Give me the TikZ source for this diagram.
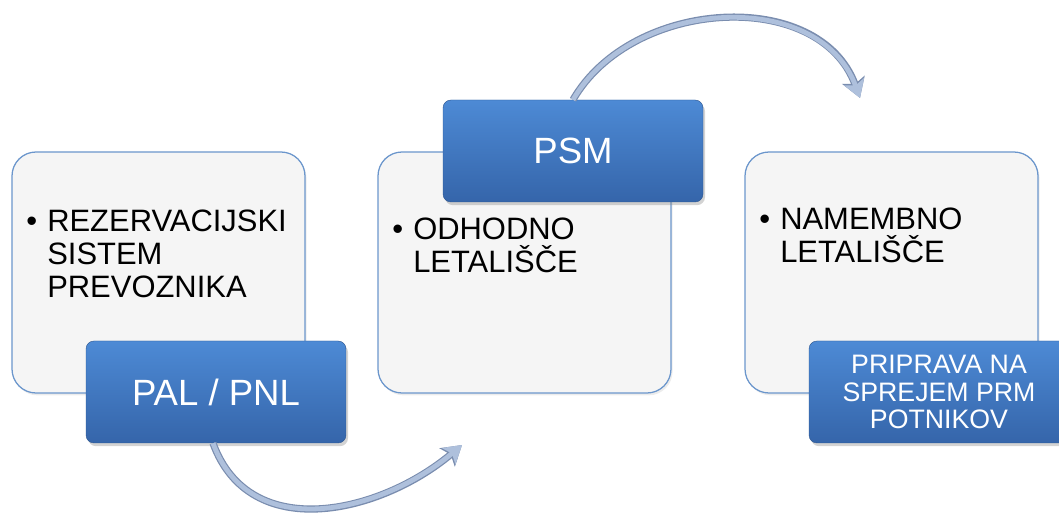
\documentclass[tikz,border=0pt]{standalone}
\usepackage{fontspec}
\setmainfont{Liberation Sans}
\usetikzlibrary{arrows.meta,positioning,calc,shadows}

\definecolor{boxfill}{HTML}{F5F5F5}
\definecolor{boxline}{HTML}{6B96CC}
\definecolor{bluetop}{HTML}{4D8AD5}
\definecolor{bluebot}{HTML}{3565AA}
\definecolor{arrowfill}{HTML}{AEC0DC}
\definecolor{arrowedge}{HTML}{7A8DAF}

\tikzset{
  stagebox/.style={draw=boxline,line width=0.9pt,fill=boxfill,rounded corners=0.6cm,
    minimum width=7.325cm,minimum height=6.025cm,
    drop shadow={opacity=0.15,shadow xshift=0.04cm,shadow yshift=-0.06cm}},
  tagbox/.style={rounded corners=0.2cm,top color=bluetop,bottom color=bluebot,
    draw=bluebot!85!black,line width=0.3pt,minimum width=6.5cm,minimum height=2.55cm,
    text=white,align=center,
    drop shadow={opacity=0.35,shadow xshift=0.05cm,shadow yshift=-0.08cm}},
  itemtext/.style={anchor=north west,align=left,inner sep=0pt,
    font=\fontsize{22}{23.5}\selectfont},
  flowarrow/.style={draw=arrowfill,line width=1.2mm,-{Stealth[length=4.3mm,width=5.2mm,inset=1mm]},
    preaction={draw=arrowedge,line width=1.8mm,-{Stealth[length=4.8mm,width=5.9mm,inset=1.1mm]}}}
}

\begin{document}
\begin{tikzpicture}
  \useasboundingbox (0,0) rectangle (26.475,12.875);

  % three stages
  \node[stagebox] (box1) at (3.9625,6.0625) {};
  \node[itemtext] (txt1) at (1.175,7.625)
    {\llap{\textbullet\hspace{0.25cm}}REZERVACIJSKI\\SISTEM\\PREVOZNIKA};
  \node[tagbox,font=\fontsize{26}{28}\selectfont] (pal) at (5.4,3.075) {PAL / PNL};

  \node[stagebox] (box2) at (13.1125,6.0625) {};
  \node[itemtext] (txt2) at (10.325,7.425)
    {\llap{\textbullet\hspace{0.25cm}}ODHODNO\\LETALIŠČE};
  \node[tagbox,font=\fontsize{26}{28}\selectfont] (psm) at (14.325,9.1) {PSM};

  \node[stagebox] (box3) at (22.2875,6.0625) {};
  \node[itemtext] (txt3) at (19.5,7.675)
    {\llap{\textbullet\hspace{0.25cm}}NAMEMBNO\\LETALIŠČE};
  \node[tagbox,font=\fontsize{19}{19.6}\selectfont] (prm) at (23.475,3.075)
    {PRIPRAVA NA\\SPREJEM PRM\\POTNIKOV};

  % curved arrows between stages
  \coordinate (tip1) at (11.55,1.75);
  \coordinate (tip2) at (21.5,10.425);
  \draw[flowarrow] ([xshift=-0.075cm]pal.south) to[out=-70,in=-140,looseness=1.1] (tip1);
  \draw[flowarrow] (psm.north) to[out=60,in=110,looseness=1.05] (tip2);
\end{tikzpicture}
\end{document}
